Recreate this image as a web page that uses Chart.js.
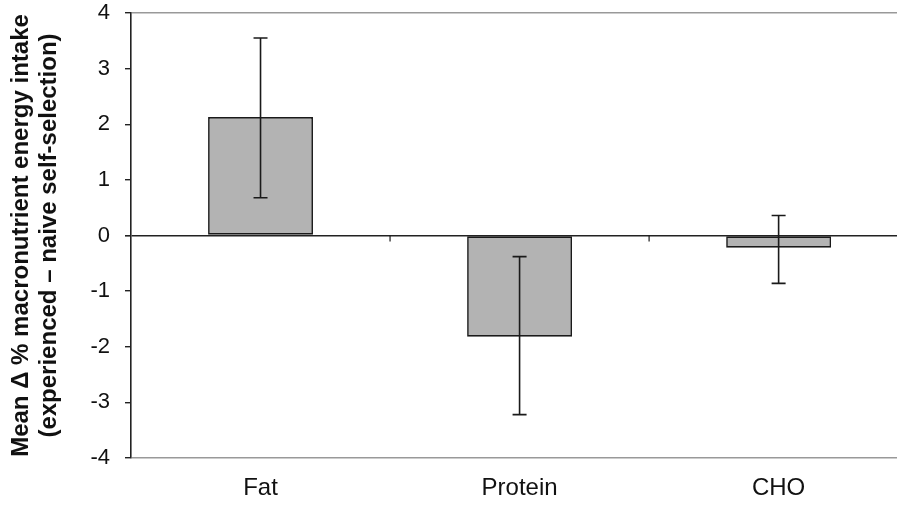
<!DOCTYPE html>
<html>
<head>
<meta charset="utf-8">
<script src="https://cdn.jsdelivr.net/npm/chart.js@4"></script>
<style>
  html, body { margin: 0; padding: 0; background: #fff; }
  #wrap { width: 897px; height: 505px; }
</style>
</head>
<body>
<div id="wrap"><canvas id="macroChart" width="897" height="505"></canvas></div>
<script>
const categories = ['Fat', 'Protein', 'CHO'];
const meanDelta = [2.13, -1.82, -0.22];
const errLow = [0.68, -3.22, -0.86];
const errHigh = [3.55, -0.38, 0.36];
const yTicks = [-4, -3, -2, -1, 0, 1, 2, 3, 4];

// the original figure is cropped on the right, partway through the last category
const xMin = -0.5;
const xMax = 2.457;

// error bars + tick marks on the zero line
const extras = {
    id: 'extras',
    afterDatasetsDraw(chart) {
        const ctx = chart.ctx;
        const x = chart.scales.x;
        const y = chart.scales.y;
        ctx.save();
        ctx.strokeStyle = '#1a1a1a';
        ctx.lineWidth = 1.6;
        categories.forEach(function (c, i) {
            const px = x.getPixelForValue(i);
            const top = y.getPixelForValue(errHigh[i]);
            const bot = y.getPixelForValue(errLow[i]);
            ctx.beginPath();
            ctx.moveTo(px, top); ctx.lineTo(px, bot);
            ctx.moveTo(px - 7, top); ctx.lineTo(px + 7, top);
            ctx.moveTo(px - 7, bot); ctx.lineTo(px + 7, bot);
            ctx.stroke();
        });
        const zero = y.getPixelForValue(0);
        ctx.lineWidth = 1.2;
        for (let i = 0; i < categories.length - 1; i++) {
            const bx = x.getPixelForValue(i + 0.5);
            ctx.beginPath();
            ctx.moveTo(bx, zero); ctx.lineTo(bx, zero + 6);
            ctx.stroke();
        }
        ctx.restore();
    }
};

const ctx = document.getElementById('macroChart').getContext('2d');
new Chart(ctx, {
    type: 'bar',
    data: {
        datasets: [{
            data: meanDelta.map((v, i) => ({ x: i, y: v })),
            backgroundColor: '#b3b3b3',
            borderColor: '#1a1a1a',
            borderWidth: 1.7,
            borderSkipped: false,
            barPercentage: 0.405,
            categoryPercentage: 1
        }]
    },
    options: {
        responsive: false,
        animation: false,
        layout: { padding: { top: 13, right: 0, bottom: 0, left: 6 } },
        plugins: { legend: { display: false }, tooltip: { enabled: false } },
        scales: {
            x: {
                type: 'linear',
                min: xMin,
                max: xMax,
                offset: false,
                border: { display: false },
                grid: { display: false },
                afterBuildTicks(axis) { axis.ticks = categories.map((c, i) => ({ value: i })); },
                afterFit(axis) {
                    axis.height = 47;
                    axis.paddingLeft = 0;
                    axis.paddingRight = 0;
                },
                ticks: {
                    color: '#111',
                    font: { family: 'Liberation Sans', size: 24 },
                    padding: 8,
                    maxRotation: 0,
                    callback: v => categories[v]
                }
            },
            y: {
                min: -4,
                max: 4,
                afterBuildTicks(axis) { axis.ticks = yTicks.map(v => ({ value: v })); },
                afterFit(axis) {
                    axis.width = 125;
                    axis.paddingTop = 0;
                    axis.paddingBottom = 0;
                },
                border: { display: true, color: '#222', width: 1.6 },
                grid: {
                    drawOnChartArea: true,
                    color: c => c.tick.value === 0 ? '#222' : (Math.abs(c.tick.value) === 4 ? '#999' : 'rgba(0,0,0,0)'),
                    lineWidth: c => c.tick.value === 0 ? 1.6 : 1.4,
                    tickColor: '#222',
                    tickLength: 6
                },
                ticks: {
                    color: '#111',
                    font: { family: 'Liberation Sans', size: 22 },
                    padding: 15
                },
                title: {
                    display: true,
                    text: ['Mean \u0394 % macronutrient energy intake', '(experienced \u2013 naive self-selection)'],
                    color: '#111',
                    font: { family: 'Liberation Sans', size: 24, weight: 'bold', lineHeight: 1.15 },
                    padding: { top: 2, bottom: 0 }
                }
            }
        }
    },
    plugins: [extras]
});
</script>
</body>
</html>
